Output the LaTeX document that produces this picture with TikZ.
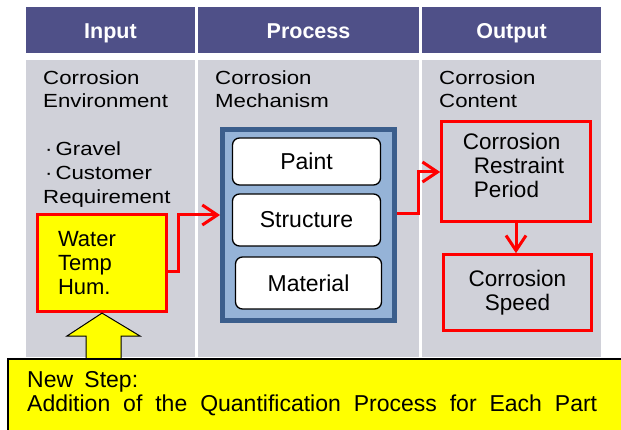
\documentclass[tikz,border=0pt]{standalone}
\usepackage{fontspec}
\setmainfont{Liberation Sans}
\newfontfamily\wideFont[FakeStretch=1.17]{Liberation Sans}
\usetikzlibrary{arrows.meta}

\begin{document}
\begin{tikzpicture}[x=1pt,y=-1pt]
\useasboundingbox (0,0) rectangle (621,430);
\definecolor{headColor}{RGB}{79,80,136}
\definecolor{bodyColor}{RGB}{208,209,217}
\definecolor{frameColor}{RGB}{59,94,140}
\definecolor{frameFill}{RGB}{149,179,215}
\definecolor{markColor}{RGB}{255,0,0}
\definecolor{noteColor}{RGB}{255,255,0}
\tikzset{
  colLabel/.style={anchor=north west, inner sep=0pt, align=left, font=\wideFont\fontsize{19}{23}\selectfont},
  partBox/.style={draw=black, line width=1.3pt, fill=white, rounded corners=7pt, minimum width=148pt, font=\fontsize{23}{26}\selectfont},
  redBox/.style={draw=markColor, line width=3.2pt, inner sep=0pt},
  redArrow/.style={draw=markColor, line width=3pt, -{Straight Barb[length=15pt,width=20pt]}}
}
\foreach \xa/\xb/\colName/\colText in {26/195/input/Input,198/419/process/Process,422/601/output/Output}
{
  \fill[headColor] (\xa,7) rectangle (\xb,53);
  \fill[bodyColor] (\xa,60) rectangle (\xb,357);
  \node[anchor=base, inner sep=0pt, text=white, font=\bfseries\fontsize{21.5}{24}\selectfont] (\colName) at ({(\xa+\xb)/2},38.3) {\colText};
}
\node[colLabel] (environment) at (43,71) {Corrosion\\Environment};
\node[colLabel] (mechanism) at (215,71) {Corrosion\\Mechanism};
\node[colLabel] (content) at (439,71) {Corrosion\\Content};
\node[colLabel, font=\wideFont\fontsize{19}{24}\selectfont] (requirement) at (43,142) {\hspace*{2pt}·\hspace{3pt}Gravel\\\hspace*{2pt}·\hspace{3pt}Customer\\Requirement};

\node[draw=frameColor, fill=frameFill, line width=5pt, minimum width=172pt, minimum height=191pt, inner sep=0pt] (frame) at (308.5,225) {};
\node[partBox, minimum height=47pt] (paint) at (306.5,161.5) {Paint};
\node[partBox, minimum height=52pt] (structure) at (306.5,220) {Structure};
\node[partBox, minimum height=52pt, minimum width=146pt] (material) at (308.5,283) {Material};

\node[redBox, fill=noteColor, minimum width=129pt, minimum height=97pt, text width=88pt, inner xsep=20.4pt, align=left, font=\fontsize{22}{24}\selectfont] (water) at (102,263) {Water\\Temp\\Hum.};
\node[redBox, minimum width=148.5pt, minimum height=99.5pt] (period) at (516,171.5) {};
\node[align=left, inner sep=0pt, xshift=-2.5pt, yshift=6pt, font=\fontsize{22.5}{24}\selectfont] (periodText) at (period) {Corrosion\\\hspace*{11pt}Restraint\\\hspace*{11pt}Period};
\node[redBox, minimum width=147.5pt, minimum height=75.5pt, align=center, font=\fontsize{22.5}{24}\selectfont] (speed) at (517.5,292.5) {Corrosion\\Speed};

\draw[redArrow] (water.east |- 0,272) -- (178,272) |- (frame.west |- 0,215);
\draw[redArrow] (frame.east |- 0,214) -- (418,214) |- (period.west |- 0,172);
\draw[redArrow] (period.south) -- (period.south |- speed.north);

\draw[fill=noteColor, line width=1pt] (water.south) -- (140,336) -- (121,336) -- (121,362) -- (86,362) -- (86,336) -- (67,336) -- cycle;
\node[draw=black, line width=1.5pt, fill=noteColor, anchor=north west, minimum width=640pt, minimum height=90pt] (note) at (7,358) {};
\node[anchor=base west, inner sep=0pt, font=\fontsize{23}{24}\selectfont] (newStep) at (27,387) {\makebox[111pt][s]{New Step:}};
\node[anchor=base west, inner sep=0pt, font=\fontsize{23}{24}\selectfont] (addition) at (27,411) {\makebox[570pt][s]{Addition of the Quantification Process for Each Part}};
\end{tikzpicture}
\end{document}
